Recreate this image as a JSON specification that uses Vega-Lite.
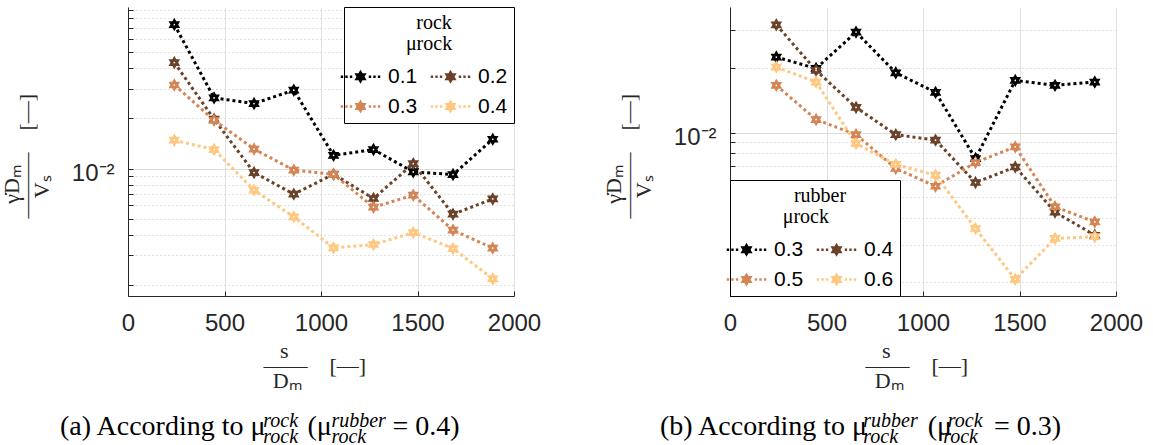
{
  "$schema": "https://vega.github.io/schema/vega-lite/v6.json",
  "background": "white",
  "padding": {"left": 0, "top": 6, "right": 5, "bottom": 0},
  "spacing": 216,
  "bounds": "flush",
  "datasets": {
    "a": [
      {"mu": "0.1", "s": 240, "v": 0.0735}, {"mu": "0.1", "s": 446, "v": 0.0266}, {"mu": "0.1", "s": 653, "v": 0.0246}, {"mu": "0.1", "s": 859, "v": 0.0296}, {"mu": "0.1", "s": 1065, "v": 0.0120}, {"mu": "0.1", "s": 1272, "v": 0.0130}, {"mu": "0.1", "s": 1478, "v": 0.00954}, {"mu": "0.1", "s": 1684, "v": 0.00920}, {"mu": "0.1", "s": 1890, "v": 0.0150},
      {"mu": "0.2", "s": 240, "v": 0.0434}, {"mu": "0.2", "s": 446, "v": 0.0198}, {"mu": "0.2", "s": 653, "v": 0.00946}, {"mu": "0.2", "s": 859, "v": 0.00701}, {"mu": "0.2", "s": 1065, "v": 0.00924}, {"mu": "0.2", "s": 1272, "v": 0.0066}, {"mu": "0.2", "s": 1478, "v": 0.0107}, {"mu": "0.2", "s": 1684, "v": 0.00531}, {"mu": "0.2", "s": 1890, "v": 0.00656},
      {"mu": "0.3", "s": 240, "v": 0.0318}, {"mu": "0.3", "s": 446, "v": 0.0195}, {"mu": "0.3", "s": 653, "v": 0.0131}, {"mu": "0.3", "s": 859, "v": 0.00978}, {"mu": "0.3", "s": 1065, "v": 0.00922}, {"mu": "0.3", "s": 1272, "v": 0.00585}, {"mu": "0.3", "s": 1478, "v": 0.00691}, {"mu": "0.3", "s": 1684, "v": 0.00426}, {"mu": "0.3", "s": 1890, "v": 0.00332},
      {"mu": "0.4", "s": 240, "v": 0.0148}, {"mu": "0.4", "s": 446, "v": 0.0130}, {"mu": "0.4", "s": 653, "v": 0.00741}, {"mu": "0.4", "s": 859, "v": 0.00512}, {"mu": "0.4", "s": 1065, "v": 0.00333}, {"mu": "0.4", "s": 1272, "v": 0.00349}, {"mu": "0.4", "s": 1478, "v": 0.00412}, {"mu": "0.4", "s": 1684, "v": 0.00330}, {"mu": "0.4", "s": 1890, "v": 0.00217}
    ],
    "b": [
      {"mu": "0.3", "s": 240, "v": 0.0225}, {"mu": "0.3", "s": 446, "v": 0.0199}, {"mu": "0.3", "s": 653, "v": 0.0294}, {"mu": "0.3", "s": 859, "v": 0.0190}, {"mu": "0.3", "s": 1065, "v": 0.0154}, {"mu": "0.3", "s": 1272, "v": 0.00757}, {"mu": "0.3", "s": 1478, "v": 0.0175}, {"mu": "0.3", "s": 1684, "v": 0.0166}, {"mu": "0.3", "s": 1890, "v": 0.0172},
      {"mu": "0.4", "s": 240, "v": 0.0318}, {"mu": "0.4", "s": 446, "v": 0.0195}, {"mu": "0.4", "s": 653, "v": 0.0131}, {"mu": "0.4", "s": 859, "v": 0.00978}, {"mu": "0.4", "s": 1065, "v": 0.00922}, {"mu": "0.4", "s": 1272, "v": 0.00585}, {"mu": "0.4", "s": 1478, "v": 0.00691}, {"mu": "0.4", "s": 1684, "v": 0.00426}, {"mu": "0.4", "s": 1890, "v": 0.00332},
      {"mu": "0.5", "s": 240, "v": 0.0166}, {"mu": "0.5", "s": 446, "v": 0.0115}, {"mu": "0.5", "s": 653, "v": 0.00979}, {"mu": "0.5", "s": 859, "v": 0.0068}, {"mu": "0.5", "s": 1065, "v": 0.00562}, {"mu": "0.5", "s": 1272, "v": 0.00725}, {"mu": "0.5", "s": 1478, "v": 0.00858}, {"mu": "0.5", "s": 1684, "v": 0.00451}, {"mu": "0.5", "s": 1890, "v": 0.00383},
      {"mu": "0.6", "s": 240, "v": 0.0202}, {"mu": "0.6", "s": 446, "v": 0.0172}, {"mu": "0.6", "s": 653, "v": 0.00889}, {"mu": "0.6", "s": 859, "v": 0.0071}, {"mu": "0.6", "s": 1065, "v": 0.00633}, {"mu": "0.6", "s": 1272, "v": 0.00357}, {"mu": "0.6", "s": 1478, "v": 0.00207}, {"mu": "0.6", "s": 1684, "v": 0.00321}, {"mu": "0.6", "s": 1890, "v": 0.00327}
    ]
  },
  "hconcat": [
    {
      "width": 386,
      "height": 289,
      "data": {"name": "a"},
      "title": {
        "text": "(a) According to μ\u2003\u2002(μ\u2003\u2003\u2006= 0.4)",
        "subtitle": [
          "\u200b\u2003\u2003\u2003\u2003\u2003\u2003\u2003\u2003\u2003\u2003\u2006rock\u2003\u2002\u2006rubber",
          "\u200b\u2003\u2003\u2003\u2003\u2003\u2003\u2003\u2003\u2003\u2003\u2006rock\u2003\u2002\u2006rock"
        ],
        "orient": "bottom", "anchor": "start", "frame": "group", "dx": -68, "offset": 22,
        "font": "Liberation Serif", "fontSize": 28, "fontWeight": "normal", "color": "black",
        "subtitleFont": "Liberation Serif", "subtitleFontSize": 20, "subtitleFontStyle": "italic", "subtitleColor": "black",
        "subtitleLineHeight": 16, "subtitlePadding": -30
      },
      "encoding": {
        "x": {
          "field": "s", "type": "quantitative",
          "scale": {"domain": [0, 2000], "nice": false, "zero": false},
          "axis": {
            "values": [0, 500, 1000, 1500, 2000], "format": "d", "labelFlush": false, "labelPadding": 20,
            "tickSize": -5, "grid": true, "gridColor": "#e0e0e0",
            "title": ["\u200b\u2002\u2005s", "——\u2003[—]", "\u200b\u2005\u2006Dₘ"],
            "titleAlign": "left", "titleBaseline": "middle", "titleLineHeight": 15, "titleX": 135, "titleY": 54
          }
        },
        "y": {
          "field": "v", "type": "quantitative",
          "scale": {"type": "log", "domain": [0.00171, 0.0937], "nice": false},
          "axis": {
            "values": [0.002, 0.003, 0.004, 0.005, 0.006, 0.007, 0.008, 0.009, 0.01, 0.02, 0.03, 0.04, 0.05, 0.06, 0.07, 0.08, 0.09],
            "labelExpr": "abs(datum.value-0.01)<1e-9 ? '10⁻²' : ''",
            "labelFontSize": {"condition": {"test": "abs(datum.value-0.01)<1e-9", "value": 24}, "value": 1},
            "labelPadding": 19, "labelOffset": 5, "tickSize": -5,
            "gridColor": {"condition": {"test": "abs(datum.value-0.01)<1e-9", "value": "#dddddd"}, "value": "#c4c4c4"},
            "gridDash": {"condition": {"test": "abs(datum.value-0.01)<1e-9", "value": []}, "value": [1, 3]},
            "title": ["\u200b\u2002\u2006γ̇Dₘ", "———\u2003[—]", "\u200b\u2002\u2005\u2006Vₛ"],
            "titleAlign": "left", "titleAngle": 270, "titleBaseline": "middle", "titleLineHeight": 15, "titleX": -116.7, "titleY": 211
          }
        }
      },
      "layer": [
        {
          "mark": {"type": "line", "strokeDash": [3, 3], "strokeWidth": 3},
          "encoding": {"color": {"field": "mu", "type": "nominal", "scale": {"domain": ["0.1", "0.3", "0.2", "0.4"], "range": ["#000000", "#D48555", "#6A422A", "#FFC77F"]},
            "legend": {
              "title": ["\u200b\u2002rock", "μrock"],
              "orient": "top-right", "offset": 0, "columns": 2,
              "symbolType": "M-2.82,-0.17h0.34v0.34h-0.34Z M-2.17,-0.17h0.34v0.34h-0.34Z M-1.52,-0.17h0.34v0.34h-0.34Z M1.18,-0.17h0.34v0.34h-0.34Z M1.83,-0.17h0.34v0.34h-0.34Z M2.48,-0.17h0.34v0.34h-0.34Z M0,-1L0.2887,-0.5L0.866,-0.5L0.5774,0L0.866,0.5L0.2887,0.5L0,1L-0.2887,0.5L-0.866,0.5L-0.5774,0L-0.866,-0.5L-0.2887,-0.5Z"
            }}}
        },
        {
          "mark": {"type": "point", "shape": "M0,-1L0.2887,-0.5L0.866,-0.5L0.5774,0L0.866,0.5L0.2887,0.5L0,1L-0.2887,0.5L-0.866,0.5L-0.5774,0L-0.866,-0.5L-0.2887,-0.5Z", "filled": true, "size": 180, "opacity": 1},
          "encoding": {"color": {"field": "mu", "type": "nominal", "scale": {"domain": ["0.1", "0.3", "0.2", "0.4"], "range": ["#000000", "#D48555", "#6A422A", "#FFC77F"]},
            "legend": {
              "title": ["\u200b\u2002rock", "μrock"],
              "orient": "top-right", "offset": 0, "columns": 2,
              "symbolType": "M-2.82,-0.17h0.34v0.34h-0.34Z M-2.17,-0.17h0.34v0.34h-0.34Z M-1.52,-0.17h0.34v0.34h-0.34Z M1.18,-0.17h0.34v0.34h-0.34Z M1.83,-0.17h0.34v0.34h-0.34Z M2.48,-0.17h0.34v0.34h-0.34Z M0,-1L0.2887,-0.5L0.866,-0.5L0.5774,0L0.866,0.5L0.2887,0.5L0,1L-0.2887,0.5L-0.866,0.5L-0.5774,0L-0.866,-0.5L-0.2887,-0.5Z"
            }}}
        },
        {
          "mark": {"type": "point", "shape": "circle", "filled": true, "size": 3, "color": "white", "opacity": 1}
        }
      ]
    },
    {
      "width": 386,
      "height": 289,
      "data": {"name": "b"},
      "title": {
        "text": "(b) According to μ\u2003\u2003\u2006(μ\u2003\u2002= 0.3)",
        "subtitle": [
          "\u200b\u2003\u2003\u2003\u2003\u2003\u2003\u2003\u2003\u2003\u2003\u2006rubber\u2003\u2002rock",
          "\u200b\u2003\u2003\u2003\u2003\u2003\u2003\u2003\u2003\u2003\u2003\u2006rock\u2003\u2003\u2005rock"
        ],
        "orient": "bottom", "anchor": "start", "frame": "group", "dx": -70, "offset": 22,
        "font": "Liberation Serif", "fontSize": 28, "fontWeight": "normal", "color": "black",
        "subtitleFont": "Liberation Serif", "subtitleFontSize": 20, "subtitleFontStyle": "italic", "subtitleColor": "black",
        "subtitleLineHeight": 16, "subtitlePadding": -30
      },
      "encoding": {
        "x": {
          "field": "s", "type": "quantitative",
          "scale": {"domain": [0, 2000], "nice": false, "zero": false},
          "axis": {
            "values": [0, 500, 1000, 1500, 2000], "format": "d", "labelFlush": false, "labelPadding": 20,
            "tickSize": -5, "grid": true, "gridColor": "#e0e0e0",
            "title": ["\u200b\u2002\u2005s", "——\u2003[—]", "\u200b\u2005\u2006Dₘ"],
            "titleAlign": "left", "titleBaseline": "middle", "titleLineHeight": 15, "titleX": 135, "titleY": 54
          }
        },
        "y": {
          "field": "v", "type": "quantitative",
          "scale": {"type": "log", "domain": [0.00173, 0.0385], "nice": false},
          "axis": {
            "values": [0.002, 0.003, 0.004, 0.005, 0.006, 0.007, 0.008, 0.009, 0.01, 0.02, 0.03],
            "labelExpr": "abs(datum.value-0.01)<1e-9 ? '10⁻²' : ''",
            "labelFontSize": {"condition": {"test": "abs(datum.value-0.01)<1e-9", "value": 24}, "value": 1},
            "labelPadding": 19, "labelOffset": 5, "tickSize": -5,
            "gridColor": {"condition": {"test": "abs(datum.value-0.01)<1e-9", "value": "#dddddd"}, "value": "#c4c4c4"},
            "gridDash": {"condition": {"test": "abs(datum.value-0.01)<1e-9", "value": []}, "value": [1, 3]},
            "title": ["\u200b\u2002\u2006γ̇Dₘ", "———\u2003[—]", "\u200b\u2002\u2005\u2006Vₛ"],
            "titleAlign": "left", "titleAngle": 270, "titleBaseline": "middle", "titleLineHeight": 15, "titleX": -116.7, "titleY": 211
          }
        }
      },
      "layer": [
        {
          "mark": {"type": "line", "strokeDash": [3, 3], "strokeWidth": 3},
          "encoding": {"color": {"field": "mu", "type": "nominal", "scale": {"domain": ["0.3", "0.5", "0.4", "0.6"], "range": ["#000000", "#D48555", "#6A422A", "#FFC77F"]},
            "legend": {
              "title": ["\u200b\u2002rubber", "μrock\u2002\u2005\u2006\u200b"],
              "orient": "bottom-left", "offset": 0, "columns": 2,
              "symbolType": "M-2.82,-0.17h0.34v0.34h-0.34Z M-2.17,-0.17h0.34v0.34h-0.34Z M-1.52,-0.17h0.34v0.34h-0.34Z M1.18,-0.17h0.34v0.34h-0.34Z M1.83,-0.17h0.34v0.34h-0.34Z M2.48,-0.17h0.34v0.34h-0.34Z M0,-1L0.2887,-0.5L0.866,-0.5L0.5774,0L0.866,0.5L0.2887,0.5L0,1L-0.2887,0.5L-0.866,0.5L-0.5774,0L-0.866,-0.5L-0.2887,-0.5Z"
            }}}
        },
        {
          "mark": {"type": "point", "shape": "M0,-1L0.2887,-0.5L0.866,-0.5L0.5774,0L0.866,0.5L0.2887,0.5L0,1L-0.2887,0.5L-0.866,0.5L-0.5774,0L-0.866,-0.5L-0.2887,-0.5Z", "filled": true, "size": 180, "opacity": 1},
          "encoding": {"color": {"field": "mu", "type": "nominal", "scale": {"domain": ["0.3", "0.5", "0.4", "0.6"], "range": ["#000000", "#D48555", "#6A422A", "#FFC77F"]},
            "legend": {
              "title": ["\u200b\u2002rubber", "μrock\u2002\u2005\u2006\u200b"],
              "orient": "bottom-left", "offset": 0, "columns": 2,
              "symbolType": "M-2.82,-0.17h0.34v0.34h-0.34Z M-2.17,-0.17h0.34v0.34h-0.34Z M-1.52,-0.17h0.34v0.34h-0.34Z M1.18,-0.17h0.34v0.34h-0.34Z M1.83,-0.17h0.34v0.34h-0.34Z M2.48,-0.17h0.34v0.34h-0.34Z M0,-1L0.2887,-0.5L0.866,-0.5L0.5774,0L0.866,0.5L0.2887,0.5L0,1L-0.2887,0.5L-0.866,0.5L-0.5774,0L-0.866,-0.5L-0.2887,-0.5Z"
            }}}
        },
        {
          "mark": {"type": "point", "shape": "circle", "filled": true, "size": 3, "color": "white", "opacity": 1}
        }
      ]
    }
  ],
  "resolve": {"scale": {"color": "independent", "x": "independent", "y": "independent"}, "legend": {"color": "independent"}},
  "config": {
    "view": {"stroke": null},
    "font": "Liberation Sans",
    "axis": {
      "labelFont": "Liberation Sans", "labelFontSize": 24, "labelColor": "#262626", "labelOverlap": false,
      "tickColor": "#262626", "tickWidth": 1, "domainColor": "#262626", "domainWidth": 1,
      "titleFont": "Liberation Serif", "titleFontSize": 22, "titleFontWeight": "normal", "titleColor": "#262626",
      "gridWidth": 1, "gridOpacity": 1
    },
    "legend": {
      "symbolSize": 196, "symbolStrokeWidth": 0, "symbolOpacity": 1,
      "labelFont": "Liberation Sans", "labelFontSize": 21, "labelColor": "black", "labelOffset": 17,
      "titleFont": "Liberation Serif", "titleFontSize": 20, "titleFontWeight": "normal", "titleColor": "black",
      "titleAnchor": "middle", "titleLineHeight": 21, "titlePadding": 12,
      "strokeColor": "black", "fillColor": "white", "padding": 6, "rowPadding": 8, "columnPadding": 12, "cornerRadius": 0
    }
  }
}
